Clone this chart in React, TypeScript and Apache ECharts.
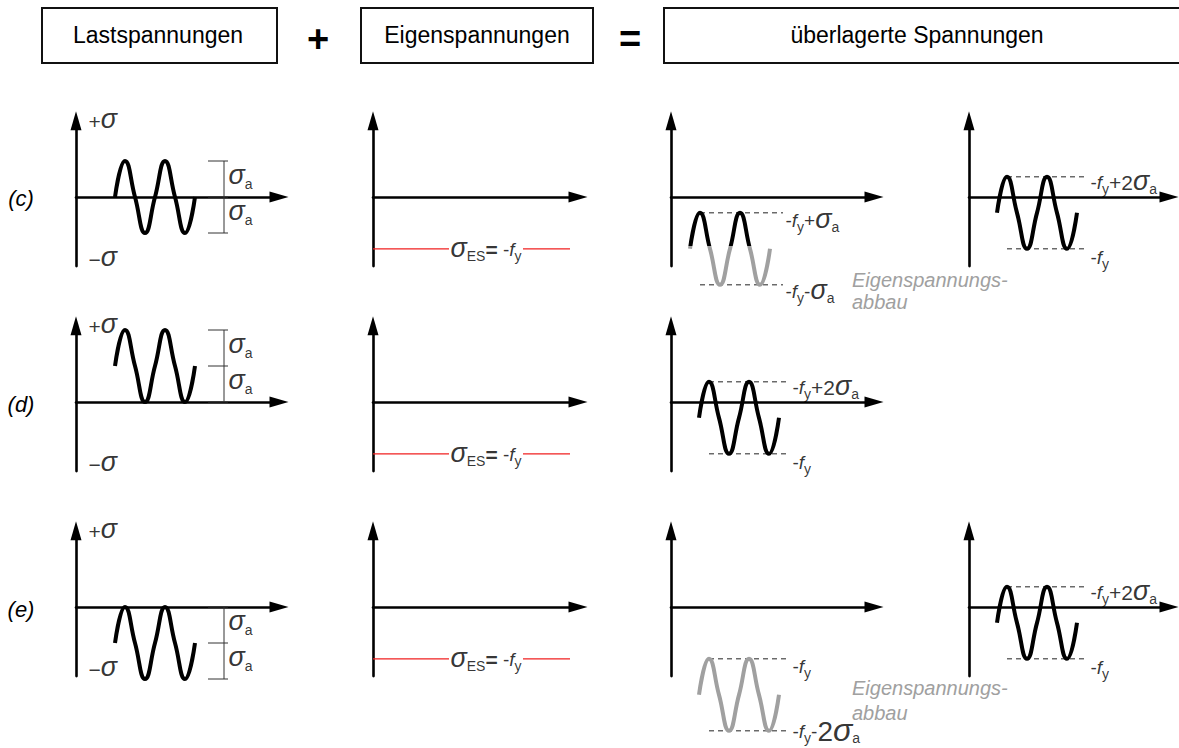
import React, { useEffect, useRef } from 'react';
import * as echarts from 'echarts';

const FONT = 'Liberation Sans';
const BLACK = '#000000';
const GRAY = '#a0a0a0';
const RED = '#f02020';
const DASH = '#222222';

// ---- texts ----
const HEADERS = ['Lastspannungen', 'Eigenspannungen', 'überlagerte Spannungen'];
const OPERATORS = ['+', '='];
const ROW_LABELS = ['(c)', '(d)', '(e)'];
const ABBAU_TEXT = 'Eigenspannungs-\nabbau';

// ---- data (x in quarter periods from the y axis, y in units of sigma_a) ----
const LOAD_T = [3.9, 4.9, 5.9, 6.9, 7.9, 8.9, 9.9, 10.9, 11.9];
const LOAD_C = [0, 1, 0, -1, 0, 1, 0, -1, 0];
const LOAD_D = [1, 2, 1, 0, 1, 2, 1, 0, 1];
const LOAD_E = [-1, 0, -1, -2, -1, 0, -1, -2, -1];
const LOAD_MEAN = [0, 1, -1];

const SUPER_C_T = [1.9, 2.9, 3.9, 4.9, 5.9, 6.9, 7.9, 8.9, 9.9];
const SUPER_C = [-1.44, -0.44, -1.44, -2.44, -1.44, -0.44, -1.44, -2.44, -1.44];
const SHIFT_T = [2.8, 3.8, 4.8, 5.8, 6.8, 7.8, 8.8, 9.8, 10.8];
const FINAL = [-0.44, 0.56, -0.44, -1.44, -0.44, 0.56, -0.44, -1.44, -0.44];
const SUPER_E = [-2.44, -1.44, -2.44, -3.44, -2.44, -1.44, -2.44, -3.44, -2.44];

const RESIDUAL = -1.44;
const ABBAU_LIMIT = -1.36;
const RED_SEGMENTS = [[0, 7.6], [15.0, 19.7]];
const ES_LABEL_X = 11.3;

const DASH_C3 = { from: 2.9, to: 11.2, levels: [-0.44, -2.44] };
const DASH_FINAL = { from: 3.8, to: 11.9, levels: [0.56, -1.44] };
const DASH_E3 = { from: 3.8, to: 11.9, levels: [-1.44, -3.44] };

const DIM_X = 14.8;
const DIM_TICK = [13.2, 15.2];
const SIGMA_LABEL_T = 1.0;
const PLUS_SIGMA_Y = 2.1;
const MINUS_SIGMA_Y = -1.73;

// ---- rich label strings ----
const T_FY_PLUS_SA = '{n|-}{f|f}{s|y}{n|+}{g|σ}{s|a}';
const T_FY_MINUS_SA = '{n|-}{f|f}{s|y}{n|-}{g|σ}{s|a}';
const T_FY_PLUS_2SA = '{n|-}{f|f}{s|y}{p|+2}{g|σ}{s|a}';
const T_FY = '{n|-}{f|f}{s|y}';
const T_FY_MINUS_2SA = '{n|-}{f|f}{s|y}{n|-}{b|2}{G|σ}{s|a}';
const T_SA = '{g|σ}{s|a}';
const T_ES = '{g|σ}{s|ES}{e|=}{n| -}{f|f}{s|y}';
const T_PLUS_SIGMA = '{p|+}{g|σ}';
const T_MINUS_SIGMA = '{p|−}{g|σ}';

// ---- layout ----
const ROW_Y = [197, 402, 607];
const COL_X = [76, 373, 671, 969];
const COL_XMAX = [20.3, 20.5, 20.3, 20.0];
const UX = 10;
const UY = 36;
const Y_MIN = -1.92;
const Y_MAX = 2.12;

const PANELS = [
  { row: 0, col: 0 }, { row: 0, col: 1 }, { row: 0, col: 2 }, { row: 0, col: 3 },
  { row: 1, col: 0 }, { row: 1, col: 1 }, { row: 1, col: 2 },
  { row: 2, col: 0 }, { row: 2, col: 1 }, { row: 2, col: 2 }, { row: 2, col: 3 },
];
const gi = (row: number, col: number) => PANELS.findIndex((p) => p.row === row && p.col === col);

const RICH: any = {
  n: { fontSize: 19, color: BLACK, fontFamily: FONT },
  f: { fontSize: 19, color: BLACK, fontFamily: FONT, fontStyle: 'italic' },
  s: { fontSize: 14, color: BLACK, fontFamily: FONT, padding: [13, 0, 0, 0] },
  g: { fontSize: 27, color: BLACK, fontFamily: FONT, fontStyle: 'italic', padding: [0, 0, 4, 0] },
  G: { fontSize: 32, color: BLACK, fontFamily: FONT, fontStyle: 'italic', padding: [0, 0, 4, 0] },
  b: { fontSize: 28, color: BLACK, fontFamily: FONT },
  p: { fontSize: 21, color: BLACK, fontFamily: FONT },
  e: { fontSize: 21, color: BLACK, fontFamily: FONT, fontWeight: 'bold' },
};

function buildOption() {
  const series: any[] = [];
  const add = (s: any) => {
    series.push({ silent: true, animation: false, ...s });
    return series.length - 1;
  };

  const wave = (g: number, ts: number[], ys: number[], color?: string) =>
    add({
      type: 'line',
      xAxisIndex: g,
      yAxisIndex: g,
      data: ts.map((t, i) => [t, ys[i]]),
      smooth: 0.5,
      showSymbol: false,
      clip: false,
      z: 4,
      lineStyle: color ? { width: 4, color } : { width: 4 },
    });

  const seg = (g: number, a: number[], b: number[], style: any) =>
    add({
      type: 'line',
      xAxisIndex: g,
      yAxisIndex: g,
      data: [a, b],
      showSymbol: false,
      clip: false,
      z: 3,
      lineStyle: style,
    });

  const labels = (g: number, items: any[]) =>
    add({
      type: 'scatter',
      xAxisIndex: g,
      yAxisIndex: g,
      clip: false,
      symbol: 'circle',
      symbolSize: 1,
      itemStyle: { color: 'rgba(0,0,0,0)' },
      z: 6,
      label: { show: true, color: BLACK, fontFamily: FONT, rich: RICH },
      data: items.map((it) => ({
        value: [it.x, it.y],
        label: {
          formatter: it.text,
          position: it.pos || 'right',
          distance: it.dist ?? 2,
          offset: it.offset || [0, 0],
        },
      })),
    });

  const dashStyle = { width: 1, color: DASH, type: [5, 4] };
  const dimStyle = { width: 1, color: '#333' };
  const redStyle = { width: 1.2, color: RED };

  // column 1: load stresses
  const loads = [LOAD_C, LOAD_D, LOAD_E];
  for (let r = 0; r < 3; r++) {
    const g = gi(r, 0);
    wave(g, LOAD_T, loads[r], BLACK);
    const m = LOAD_MEAN[r];
    seg(g, [DIM_X, m - 1], [DIM_X, m + 1], dimStyle);
    [m - 1, m, m + 1].forEach((lv) => seg(g, [DIM_TICK[0], lv], [DIM_TICK[1], lv], dimStyle));
    labels(g, [
      { x: SIGMA_LABEL_T, y: PLUS_SIGMA_Y, text: T_PLUS_SIGMA },
      { x: SIGMA_LABEL_T, y: MINUS_SIGMA_Y, text: T_MINUS_SIGMA },
      { x: DIM_TICK[1], y: m + 0.5, text: T_SA, dist: 0, offset: [0, -2] },
      { x: DIM_TICK[1], y: m - 0.5, text: T_SA, dist: 0, offset: [0, -2] },
    ]);
  }

  // column 2: residual stresses
  for (let r = 0; r < 3; r++) {
    const g = gi(r, 1);
    RED_SEGMENTS.forEach(([a, b]) => seg(g, [a, RESIDUAL], [b, RESIDUAL], redStyle));
    labels(g, [{ x: ES_LABEL_X, y: RESIDUAL, text: T_ES, pos: 'inside', offset: [0, 1] }]);
  }

  const dashes = (g: number, d: any) =>
    d.levels.forEach((lv: number) => seg(g, [d.from, lv], [d.to, lv], dashStyle));

  // row c, col 3 (black/gray split by visualMap)
  const gC3 = gi(0, 2);
  const idxC3 = wave(gC3, SUPER_C_T, SUPER_C);
  dashes(gC3, DASH_C3);
  labels(gC3, [
    { x: DASH_C3.to, y: DASH_C3.levels[0], text: T_FY_PLUS_SA, offset: [0, 8] },
    { x: DASH_C3.to, y: DASH_C3.levels[1], text: T_FY_MINUS_SA, offset: [0, 7] },
  ]);

  // final states
  const finals = [gi(0, 3), gi(1, 2), gi(2, 3)];
  finals.forEach((g) => {
    wave(g, SHIFT_T, FINAL, BLACK);
    dashes(g, DASH_FINAL);
    labels(g, [
      { x: DASH_FINAL.to, y: DASH_FINAL.levels[0], text: T_FY_PLUS_2SA, offset: [0, 6] },
      { x: DASH_FINAL.to, y: DASH_FINAL.levels[1], text: T_FY, offset: [0, 9] },
    ]);
  });

  // row e, col 3 (all gray)
  const gE3 = gi(2, 2);
  wave(gE3, SHIFT_T, SUPER_E, GRAY);
  dashes(gE3, DASH_E3);
  labels(gE3, [
    { x: DASH_E3.to, y: DASH_E3.levels[0], text: T_FY, offset: [0, 8] },
    { x: DASH_E3.to, y: DASH_E3.levels[1], text: T_FY_MINUS_2SA, offset: [0, 1] },
  ]);

  const axisLineBase = {
    show: true,
    onZero: true,
    symbol: ['none', 'triangle'],
    symbolSize: [11, 19],
    lineStyle: { color: '#000', width: 2.6 },
  };

  const grid = PANELS.map((p) => ({
    left: COL_X[p.col],
    top: ROW_Y[p.row] - Y_MAX * UY,
    width: COL_XMAX[p.col] * UX,
    height: (Y_MAX - Y_MIN) * UY,
    containLabel: false,
  }));
  const xAxis = PANELS.map((p, i) => ({
    type: 'value',
    gridIndex: i,
    min: 0,
    max: COL_XMAX[p.col],
    axisLine: axisLineBase,
    axisTick: { show: false },
    axisLabel: { show: false },
    splitLine: { show: false },
  }));
  const yAxis = PANELS.map((p, i) => ({
    type: 'value',
    gridIndex: i,
    min: Y_MIN,
    max: Y_MAX,
    axisLine: axisLineBase,
    axisTick: { show: false },
    axisLabel: { show: false },
    splitLine: { show: false },
  }));

  const headerBoxes = [
    { x: 42, w: 235, cx: 158 },
    { x: 361, w: 232, cx: 477 },
    { x: 664, w: 530, cx: 917 },
  ];
  const graphic: any[] = [];
  headerBoxes.forEach((b, i) => {
    graphic.push({
      type: 'rect',
      shape: { x: b.x, y: 8, width: b.w, height: 55 },
      style: { fill: '#fff', stroke: '#111', lineWidth: 2 },
    });
    graphic.push({
      type: 'text',
      x: b.cx,
      y: 35,
      style: { text: HEADERS[i], fontSize: 23, fontFamily: FONT, fill: BLACK, align: 'center', verticalAlign: 'middle' },
    });
  });
  [318, 630].forEach((x, i) =>
    graphic.push({
      type: 'text',
      x,
      y: 39,
      style: { text: OPERATORS[i], fontSize: 38, fontWeight: 'bold', fontFamily: FONT, fill: BLACK, align: 'center', verticalAlign: 'middle' },
    })
  );
  [198, 404, 609].forEach((y, i) =>
    graphic.push({
      type: 'text',
      x: 21,
      y,
      style: { text: ROW_LABELS[i], fontSize: 22, fontStyle: 'italic', fontFamily: FONT, fill: BLACK, align: 'center', verticalAlign: 'middle' },
    })
  );
  [{ y: 269, lh: 22 }, { y: 675, lh: 25 }].forEach((a) =>
    graphic.push({
      type: 'text',
      x: 852,
      y: a.y,
      style: { text: ABBAU_TEXT, fontSize: 20, fontStyle: 'italic', fontFamily: FONT, fill: GRAY, lineHeight: a.lh, align: 'left', verticalAlign: 'top' },
    })
  );

  return {
    animation: false,
    backgroundColor: '#ffffff',
    textStyle: { fontFamily: FONT },
    grid,
    xAxis,
    yAxis,
    visualMap: [
      {
        type: 'piecewise',
        show: false,
        seriesIndex: idxC3,
        dimension: 1,
        pieces: [
          { min: -6, max: ABBAU_LIMIT, color: GRAY },
          { min: ABBAU_LIMIT, max: 6, color: BLACK },
        ],
      },
    ],
    graphic,
    series,
  };
}

export default function App() {
  const ref = useRef<HTMLDivElement>(null);
  useEffect(() => {
    if (!ref.current) return;
    const chart = echarts.init(ref.current, undefined, { renderer: 'svg' });
    chart.setOption(buildOption() as any);
    return () => chart.dispose();
  }, []);
  return (
    <div
      ref={ref}
      style={{ position: 'absolute', left: 0, top: 0, width: 1179, height: 748, background: '#fff' }}
    />
  );
}
